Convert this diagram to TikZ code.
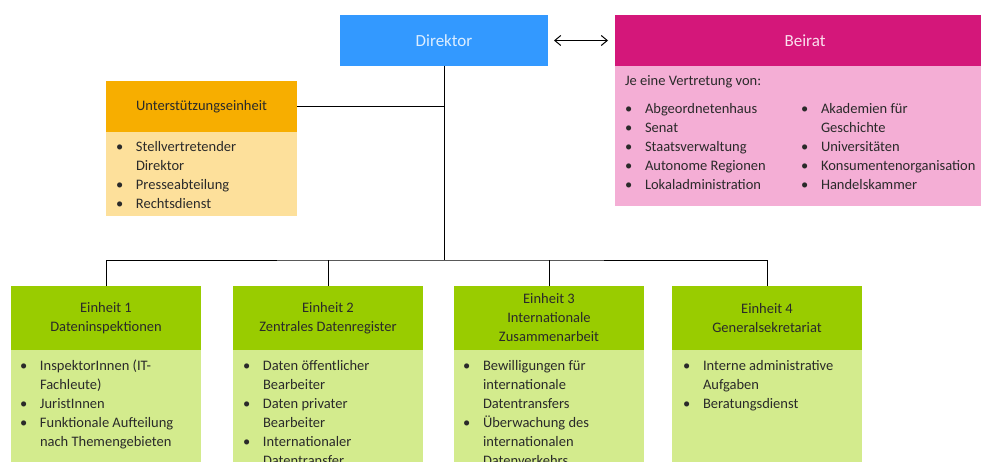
\documentclass[tikz,border=0pt]{standalone}
\usepackage{fontspec}
\setmainfont{Carlito}
\usetikzlibrary{arrows.meta}

\definecolor{dirblue}{HTML}{3399FF}
\definecolor{beiratmag}{HTML}{D4177A}
\definecolor{beiratpink}{HTML}{F4AED5}
\definecolor{untorange}{HTML}{F7AE00}
\definecolor{untlight}{HTML}{FDE09B}
\definecolor{unitgreen}{HTML}{99CC00}
\definecolor{unitlight}{HTML}{D3EB8D}
\definecolor{ink}{HTML}{2A2A2A}
\definecolor{paleblue}{HTML}{DDEEFF}
\definecolor{palepink}{HTML}{FBE0EE}

\newcommand\txtfont{\fontsize{14.5}{19}\selectfont}
\newcommand\bigfont{\fontsize{17}{20}\selectfont}
% bullet list: bullet column, then text column (continuation rows leave the bullet empty)
\newcommand\blist[1]{\begin{tabular}[t]{@{}p{20pt}@{}l@{}}#1\end{tabular}}
\newcommand\bu{\textbullet}

\tikzset{
  panel/.style={rectangle, inner sep=0pt, outer sep=0pt, align=center,
    font=\txtfont, text=ink},
  listtext/.style={anchor=base west, inner sep=0pt, outer sep=0pt,
    font=\txtfont, text=ink, align=left},
  wire/.style={draw=black, line width=1pt},
  unithead/.style={panel, fill=unitgreen, minimum width=190pt, minimum height=64pt},
  unitbody/.style={panel, fill=unitlight, minimum width=190pt, minimum height=120pt},
}

\begin{document}
\begin{tikzpicture}[x=1pt,y=-1pt]
\useasboundingbox (0,0) rectangle (981,462);
\clip (0,0) rectangle (981,462);
\fill[white] (0,0) rectangle (981,462);

% top level
\node[panel, fill=dirblue, text=paleblue, font=\bigfont, minimum width=208pt, minimum height=51pt]
  (dir) at (444,40.5) {Direktor};

\node[panel, fill=beiratmag, text=palepink, font=\bigfont, minimum width=380pt, minimum height=51pt]
  (beirath) at (805,40.5) {Beirat};
\node[panel, fill=beiratpink, minimum width=380pt, minimum height=140pt]
  (beiratb) at (805,136) {};

\node[panel, fill=untorange, minimum width=191pt, minimum height=51pt]
  (unth) at (201.5,106.5) {Unterstützungseinheit};
\node[panel, fill=untlight, minimum width=191pt, minimum height=84pt]
  (untb) at (201.5,174) {};

% units
\node[unithead] (e1h) at (106,318) {Einheit 1\\Dateninspektionen};
\node[unitbody] (e1b) at (106,410) {};
\node[unithead] (e2h) at (328,318) {Einheit 2\\Zentrales Datenregister};
\node[unitbody] (e2b) at (328,410) {};
\node[unithead] (e3h) at (549,318) {Einheit 3\\Internationale\\Zusammenarbeit};
\node[unitbody] (e3b) at (549,410) {};
\node[unithead] (e4h) at (767,318) {Einheit 4\\Generalsekretariat};
\node[unitbody] (e4b) at (767,410) {};

% list contents
\node[listtext] (untl) at ([shift={(10,20)}]untb.north west) {\blist{%
  \bu & Stellvertretender\\
      & Direktor\\
  \bu & Presseabteilung\\
  \bu & Rechtsdienst}};

\node[listtext] (bintro) at ([shift={(10,20)}]beiratb.north west) {Je eine Vertretung von:};
\node[listtext] (bl1) at ([shift={(10,48)}]beiratb.north west) {\blist{%
  \bu & Abgeordnetenhaus\\
  \bu & Senat\\
  \bu & Staatsverwaltung\\
  \bu & Autonome Regionen\\
  \bu & Lokaladministration}};
\node[listtext] (bl2) at ([shift={(186,48)}]beiratb.north west) {\blist{%
  \bu & Akademien für\\
      & Geschichte\\
  \bu & Universitäten\\
  \bu & Konsumentenorganisation\\
  \bu & Handelskammer}};

\node[listtext] (e1l) at ([shift={(9,20)}]e1b.north west) {\blist{%
  \bu & InspektorInnen (IT-\\
      & Fachleute)\\
  \bu & JuristInnen\\
  \bu & Funktionale Aufteilung\\
      & nach Themengebieten}};
\node[listtext] (e2l) at ([shift={(10,20)}]e2b.north west) {\blist{%
  \bu & Daten öffentlicher\\
      & Bearbeiter\\
  \bu & Daten privater\\
      & Bearbeiter\\
  \bu & Internationaler\\
      & Datentransfer}};
\node[listtext] (e3l) at ([shift={(9,20)}]e3b.north west) {\blist{%
  \bu & Bewilligungen für\\
      & internationale\\
      & Datentransfers\\
  \bu & Überwachung des\\
      & internationalen\\
      & Datenverkehrs}};
\node[listtext] (e4l) at ([shift={(11,20)}]e4b.north west) {\blist{%
  \bu & Interne administrative\\
      & Aufgaben\\
  \bu & Beratungsdienst}};

% connectors
\coordinate (bus) at (444,260);
\draw[wire] (dir.south) -- (bus);
\draw[wire] (unth.east) -- (unth.east -| dir.south);
\draw[wire] (e1h.north) |- (bus) -| (e4h.north);
\draw[wire] (e2h.north) -- (e2h.north |- bus);
\draw[wire] (e3h.north) -- (e3h.north |- bus);
\draw[line width=1pt, {Straight Barb[length=6pt,width=10pt]}-{Straight Barb[length=6pt,width=10pt]},
      shorten <=6pt, shorten >=7pt] (dir.east) -- (beirath.west);
\end{tikzpicture}
\end{document}
